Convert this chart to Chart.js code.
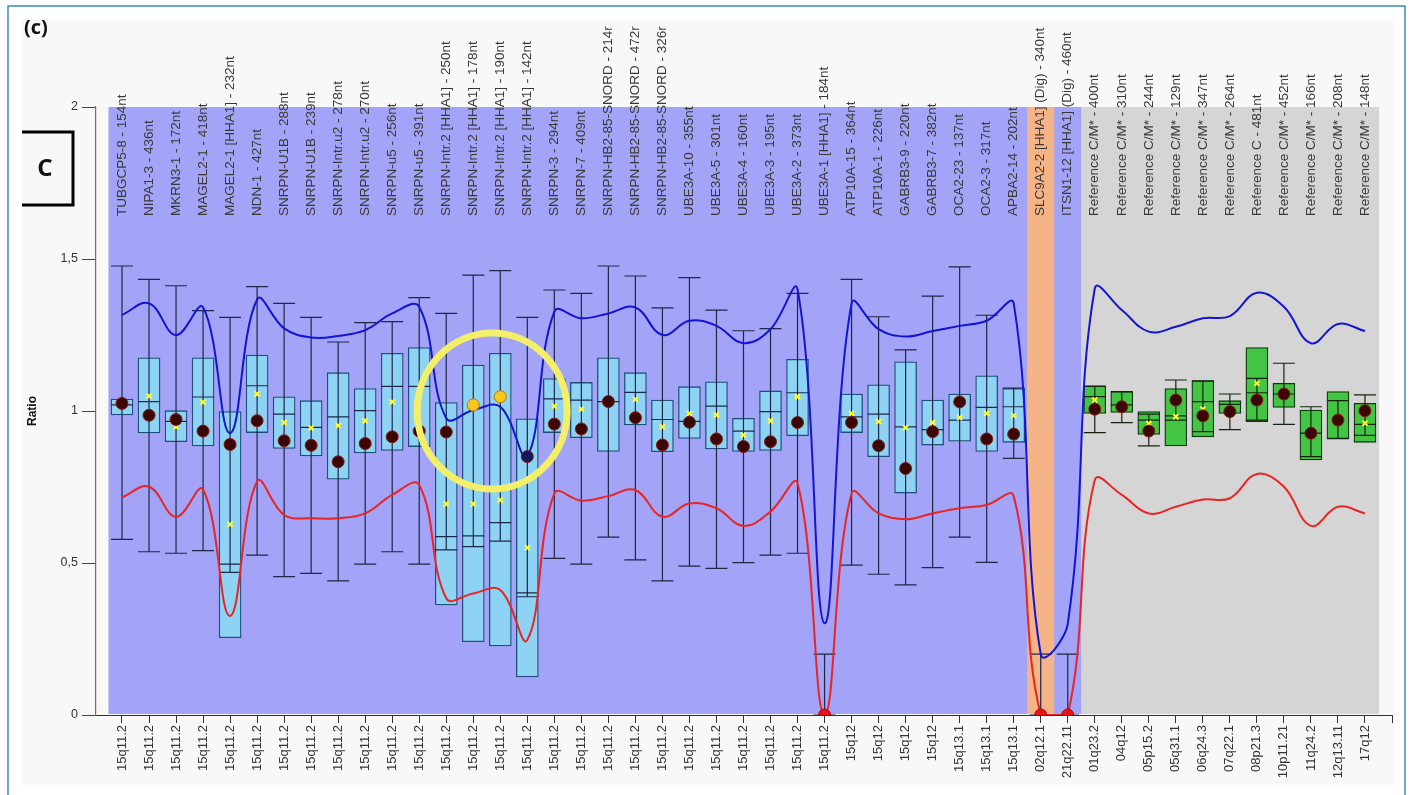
<!DOCTYPE html>
<html>
<head>
<meta charset="utf-8">
<script src="https://cdn.jsdelivr.net/npm/chart.js@4"></script>
<style>
  html, body { margin: 0; padding: 0; background: #fff; }
  #wrap { width: 1412px; height: 795px; }
</style>
</head>
<body>
<div id="wrap"><canvas id="ratioChart" width="1412" height="795"></canvas></div>
<script>
// probe names (top) and chromosome bands (bottom)
const probeLabels = [
  'TUBGCP5-8 - 154nt', 'NIPA1-3 - 436nt', 'MKRN3-1 - 172nt', 'MAGEL2-1 - 418nt', 'MAGEL2-1 [HHA1] - 232nt',
  'NDN-1 - 427nt', 'SNRPN-U1B - 288nt', 'SNRPN-U1B - 239nt', 'SNRPN-Intr.u2 - 278nt', 'SNRPN-Intr.u2 - 270nt',
  'SNRPN-u5 - 256nt', 'SNRPN-u5 - 391nt', 'SNRPN-Intr.2 [HHA1] - 250nt', 'SNRPN-Intr.2 [HHA1] - 178nt',
  'SNRPN-Intr.2 [HHA1] - 190nt', 'SNRPN-Intr.2 [HHA1] - 142nt', 'SNRPN-3 - 294nt', 'SNRPN-7 - 409nt',
  'SNRPN-HB2-85-SNORD - 214r', 'SNRPN-HB2-85-SNORD - 472r', 'SNRPN-HB2-85-SNORD - 326r', 'UBE3A-10 - 355nt',
  'UBE3A-5 - 301nt', 'UBE3A-4 - 160nt', 'UBE3A-3 - 195nt', 'UBE3A-2 - 373nt', 'UBE3A-1 [HHA1] - 184nt',
  'ATP10A-15 - 364nt', 'ATP10A-1 - 226nt', 'GABRB3-9 - 220nt', 'GABRB3-7 - 382nt', 'OCA2-23 - 137nt',
  'OCA2-3 - 317nt', 'APBA2-14 - 202nt', 'SLC9A2-2 [HHA1] (Dig) - 340nt', 'ITSN1-12 [HHA1] (Dig) - 460nt',
  'Reference C/M* - 400nt', 'Reference C/M* - 310nt', 'Reference C/M* - 244nt', 'Reference C/M* - 129nt',
  'Reference C/M* - 347nt', 'Reference C/M* - 264nt', 'Reference C - 481nt', 'Reference C/M* - 452nt',
  'Reference C/M* - 166nt', 'Reference C/M* - 208nt', 'Reference C/M* - 148nt'
];
const bandLabels = [
  '15q11.2', '15q11.2', '15q11.2', '15q11.2', '15q11.2', '15q11.2', '15q11.2', '15q11.2', '15q11.2', '15q11.2',
  '15q11.2', '15q11.2', '15q11.2', '15q11.2', '15q11.2', '15q11.2', '15q11.2', '15q11.2', '15q11.2', '15q11.2',
  '15q11.2', '15q11.2', '15q11.2', '15q11.2', '15q11.2', '15q11.2', '15q11.2', '15q12', '15q12', '15q12',
  '15q12', '15q13.1', '15q13.1', '15q13.1', '02q12.1', '21q22.11', '01q23.2', '04q12', '05p15.2', '05q31.1',
  '06q24.3', '07q22.1', '08p21.3', '10p11.21', '11q24.2', '12q13.11', '17q12'
];
// probe group per column: target, digested control, reference
const probeGroup = [
  't','t','t','t','t','t','t','t','t','t','t','t','t','t','t','t','t','t','t','t','t','t','t','t','t','t','t',
  't','t','t','t','t','t','t','d','t','r','r','r','r','r','r','r','r','r','r','r'
];

// box values (ratio)
const boxLow = [0.987,0.928,0.899,0.885,0.254,0.929,0.877,0.852,0.776,0.862,0.870,0.883,0.362,0.241,0.227,0.125,
  0.929,0.912,0.867,0.954,0.866,0.910,0.875,0.867,0.870,0.919,null,0.929,0.850,0.730,0.888,0.901,0.867,0.897,null,null,
  0.992,0.995,0.923,0.885,0.915,0.992,0.965,1.012,0.839,0.907,0.897];
const boxHigh = [1.039,1.175,1.001,1.175,0.998,1.184,1.047,1.034,1.126,1.074,1.190,1.209,1.028,1.151,1.190,0.974,
  1.107,1.094,1.175,1.126,1.036,1.080,1.096,0.976,1.066,1.170,null,1.056,1.086,1.162,1.036,1.056,1.116,1.074,null,null,
  1.082,1.064,0.998,1.074,1.099,1.034,1.209,1.091,1.003,1.064,1.025];
const medians = [1.020,1.031,0.966,1.046,0.496,1.083,0.990,0.946,0.981,1.001,1.081,1.081,0.587,0.589,0.633,0.402,
  1.040,1.036,1.031,1.061,0.972,0.966,1.016,0.934,0.998,1.060,null,0.981,0.990,0.948,0.939,0.970,1.012,1.014,null,null,
  1.047,1.020,0.970,0.984,1.031,1.022,1.060,1.056,0.927,1.034,0.956];
const whiskerLow = [0.578,0.537,0.532,0.541,0.469,0.526,0.455,0.466,0.441,0.496,0.537,0.496,0.543,0.554,0.572,0.389,
  0.515,0.496,0.585,0.510,0.441,0.490,0.482,0.501,0.526,0.532,0,0.493,0.463,0.428,0.485,0.585,0.502,0.844,0,0,
  0.929,0.962,0.885,0.970,0.932,0.939,0.970,0.956,0.850,0.910,0.920];
const whiskerHigh = [1.477,1.433,1.412,1.330,1.308,1.409,1.354,1.308,1.227,1.291,1.294,1.373,1.321,1.447,1.462,1.308,
  1.398,1.387,1.477,1.444,1.339,1.439,1.332,1.264,1.271,1.387,0.2,1.433,1.310,1.201,1.378,1.474,1.315,1.075,0.2,0.2,
  1.082,1.064,0.990,1.102,1.099,1.056,1.107,1.157,1.014,1.034,1.053];
// sample ratio (dots) and mean (yellow crosses)
const sampleRatio = [1.025,0.986,0.972,0.934,0.890,0.968,0.902,0.887,0.833,0.893,0.915,0.934,0.931,1.020,1.047,0.850,
  0.957,0.941,1.031,0.978,0.888,0.963,0.908,0.883,0.899,0.962,0,0.962,0.886,0.811,0.932,1.030,0.908,0.924,0,0,
  1.006,1.014,0.934,1.036,0.984,0.998,1.036,1.056,0.927,0.970,1.001];
const meanRatio = [1.020,1.049,0.948,1.029,0.627,1.056,0.962,0.944,0.952,0.968,1.030,1.047,0.694,0.694,0.707,0.550,
  1.016,1.006,1.031,1.038,0.948,0.992,0.987,0.921,0.968,1.047,null,0.992,0.965,0.945,0.962,0.978,0.992,0.985,null,null,
  1.036,1.020,0.959,0.981,1.006,1.000,1.091,1.056,0.927,0.980,0.960];
// upper and lower limit curves
const upperLimit = [1.316,1.354,1.250,1.341,0.927,1.367,1.272,1.242,1.247,1.266,1.321,1.343,0.976,1.003,1.014,0.850,
  1.327,1.305,1.321,1.341,1.250,1.297,1.280,1.223,1.269,1.400,0.302,1.354,1.269,1.245,1.263,1.280,1.297,1.354,0.20,0.30,
  1.403,1.332,1.261,1.277,1.305,1.312,1.389,1.343,1.223,1.286,1.263];
const lowerLimit = [0.716,0.751,0.652,0.742,0.326,0.768,0.658,0.647,0.647,0.663,0.724,0.757,0.384,0.400,0.411,0.247,
  0.729,0.705,0.720,0.740,0.652,0.696,0.680,0.622,0.669,0.762,0,0.729,0.663,0.644,0.663,0.680,0.691,0.720,0,0,
  0.773,0.724,0.663,0.685,0.709,0.713,0.793,0.751,0.622,0.685,0.663];
const yTicks = [0, 0.5, 1, 1.5, 2];
// columns marked specially in the figure
const circledCols = [13, 14];
const darkCol = 15;

const FONT = '"Liberation Sans", Arial, sans-serif';

function dotColor(i) {
  if (sampleRatio[i] === 0) return '#e81414';
  if (circledCols.includes(i)) return '#f6c81e';
  if (i === darkCol) return '#15155c';
  return '#3a0606';
}
function dotBorder(i) {
  if (sampleRatio[i] === 0) return '#b00000';
  if (circledCols.includes(i)) return '#c07800';
  return '#8a1a10';
}

// background, bands, whiskers, labels
const figurePlugin = {
  id: 'figure',
  beforeDraw(chart) {
    const c = chart.ctx;
    c.save();
    c.fillStyle = '#ffffff';
    c.fillRect(0, 0, chart.width, chart.height);
    c.fillStyle = '#f8f8f8';
    c.fillRect(22, 20, 1372, 765);
    c.strokeStyle = '#3d8bb5';
    c.lineWidth = 1.5;
    c.strokeRect(8, 6, 1397, 800);
    c.restore();
  },
  beforeDatasetsDraw(chart) {
    const c = chart.ctx, x = chart.scales.x, y = chart.scales.y;
    const top = y.getPixelForValue(2), bottom = y.getPixelForValue(0) - 1;
    const colors = { t: '#a3a3f7', d: '#f5b487', r: '#d5d5d5' };
    c.save();
    probeGroup.forEach((g, i) => {
      const l = x.getPixelForValue(i - 0.5), r = x.getPixelForValue(i + 0.5);
      c.fillStyle = colors[g];
      c.fillRect(l, top, r - l + 0.6, bottom - top);
    });
    c.restore();
  },
  afterDatasetDraw(chart, args) {
    if (args.meta.type !== 'bar') return;
    const c = chart.ctx, x = chart.scales.x, y = chart.scales.y;
    const half = 11;
    c.save();
    c.lineWidth = 1.2;
    whiskerLow.forEach((lo, i) => {
      const px = x.getPixelForValue(i);
      c.strokeStyle = probeGroup[i] === 'r' ? '#14240f' : '#1c2848';
      const yLo = y.getPixelForValue(lo), yHi = y.getPixelForValue(whiskerHigh[i]);
      c.beginPath();
      c.moveTo(px, yLo); c.lineTo(px, yHi);
      c.moveTo(px - half, yLo); c.lineTo(px + half, yLo);
      c.moveTo(px - half, yHi); c.lineTo(px + half, yHi);
      if (medians[i] != null) {
        const ym = y.getPixelForValue(medians[i]);
        c.moveTo(px - half, ym); c.lineTo(px + half, ym);
      }
      c.stroke();
    });
    c.restore();
  },
  afterDatasetsDraw(chart) {
    // highlight ring around the SNRPN-Intr.2 probes
    const c = chart.ctx, x = chart.scales.x, y = chart.scales.y;
    c.save();
    c.strokeStyle = '#f3ef68';
    c.lineWidth = 7;
    c.beginPath();
    c.ellipse(x.getPixelForValue(13.7), y.getPixelForValue(1.0), 75, 78, 0, 0, Math.PI * 2);
    c.stroke();
    c.restore();
  },
  afterDraw(chart) {
    const c = chart.ctx, x = chart.scales.x;
    c.save();
    // probe names, rotated
    c.fillStyle = '#383838';
    c.font = '13.5px ' + FONT;
    c.textAlign = 'left';
    c.textBaseline = 'middle';
    probeLabels.forEach((t, i) => {
      c.save();
      c.translate(x.getPixelForValue(i), 216);
      c.rotate(-Math.PI / 2);
      c.fillText(t, 0, 0);
      c.restore();
    });
    // axis title
    c.fillStyle = '#111';
    c.font = 'bold 12px ' + FONT;
    c.textAlign = 'center';
    c.save();
    c.translate(33, 411);
    c.rotate(-Math.PI / 2);
    c.fillText('Ratio', 0, 0);
    c.restore();
    // panel letters
    c.font = 'bold 20px "Open Sans", sans-serif';
    c.textAlign = 'left';
    c.textBaseline = 'top';
    c.fillText('(c)', 24, 18);
    c.strokeStyle = '#000';
    c.lineWidth = 3;
    c.beginPath();
    c.moveTo(22, 132); c.lineTo(73, 132); c.lineTo(73, 205); c.lineTo(22, 205);
    c.stroke();
    c.font = 'bold 24px "Open Sans", sans-serif';
    c.textAlign = 'center';
    c.textBaseline = 'middle';
    c.fillText('C', 45, 169);
    c.restore();
  }
};

const idx = probeLabels.map((_, i) => i);
const ctx = document.getElementById('ratioChart').getContext('2d');
const ratioChart = new Chart(ctx, {
  type: 'bar',
  data: {
    datasets: [
      {
        type: 'bar',
        order: 5,
        data: idx.filter(i => boxLow[i] != null).map(i => ({ x: i, y: [boxLow[i], boxHigh[i]] })),
        barThickness: 22,
        backgroundColor: c => probeGroup[c.raw.x] === 'r' ? '#44c444' : '#8fd3f4',
        borderColor: c => probeGroup[c.raw.x] === 'r' ? '#0d3a0d' : '#1d4f7a',
        borderWidth: 1.3,
        borderSkipped: false
      },
      {
        type: 'line',
        order: 4,
        data: idx.map(i => ({ x: i, y: upperLimit[i] })),
        borderColor: '#1414d2',
        borderWidth: 2,
        pointRadius: 0,
        tension: 0.4,
        fill: false
      },
      {
        type: 'line',
        order: 3,
        data: idx.map(i => ({ x: i, y: lowerLimit[i] })),
        borderColor: '#e82424',
        borderWidth: 2,
        pointRadius: 0,
        tension: 0.4,
        fill: false
      },
      {
        type: 'line',
        order: 2,
        data: idx.filter(i => meanRatio[i] != null).map(i => ({ x: i, y: meanRatio[i] })),
        showLine: false,
        pointStyle: 'crossRot',
        pointRadius: 3.5,
        pointBorderWidth: 2,
        pointBorderColor: '#ffff2a'
      },
      {
        type: 'line',
        order: 1,
        data: idx.map(i => ({ x: i, y: sampleRatio[i] })),
        showLine: false,
        pointRadius: 6,
        pointBorderWidth: 1,
        pointBackgroundColor: c => dotColor(c.raw.x),
        pointBorderColor: c => dotBorder(c.raw.x)
      }
    ]
  },
  options: {
    responsive: false,
    animation: false,
    layout: { padding: { left: 0, right: 20, top: 107, bottom: 0 } },
    plugins: { legend: { display: false }, tooltip: { enabled: false } },
    scales: {
      x: {
        type: 'linear',
        min: -0.962,
        max: 47,
        offset: false,
        afterBuildTicks: s => { s.ticks = idx.concat([47]).map(v => ({ value: v })); },
        afterFit: s => { s.height = 80; },
        grid: { offset: false, drawOnChartArea: false, color: '#333', tickLength: 8 },
        border: { color: '#333', width: 1 },
        ticks: {
          autoSkip: false,
          minRotation: 90,
          maxRotation: 90,
          padding: 2,
          color: '#333',
          font: { size: 13, family: FONT },
          callback: v => bandLabels[v] || ''
        }
      },
      y: {
        min: 0,
        max: 2,
        afterBuildTicks: s => { s.ticks = yTicks.map(v => ({ value: v })); },
        afterFit: s => { s.width = 96; },
        grid: { drawOnChartArea: false, color: '#444', tickLength: 14 },
        border: { color: '#c24a4a', width: 1.2 },
        ticks: {
          padding: 4,
          color: '#333',
          font: { size: 12.5, family: FONT },
          callback: v => String(v).replace('.', ',')
        }
      }
    }
  },
  plugins: [figurePlugin]
});
</script>
</body>
</html>
